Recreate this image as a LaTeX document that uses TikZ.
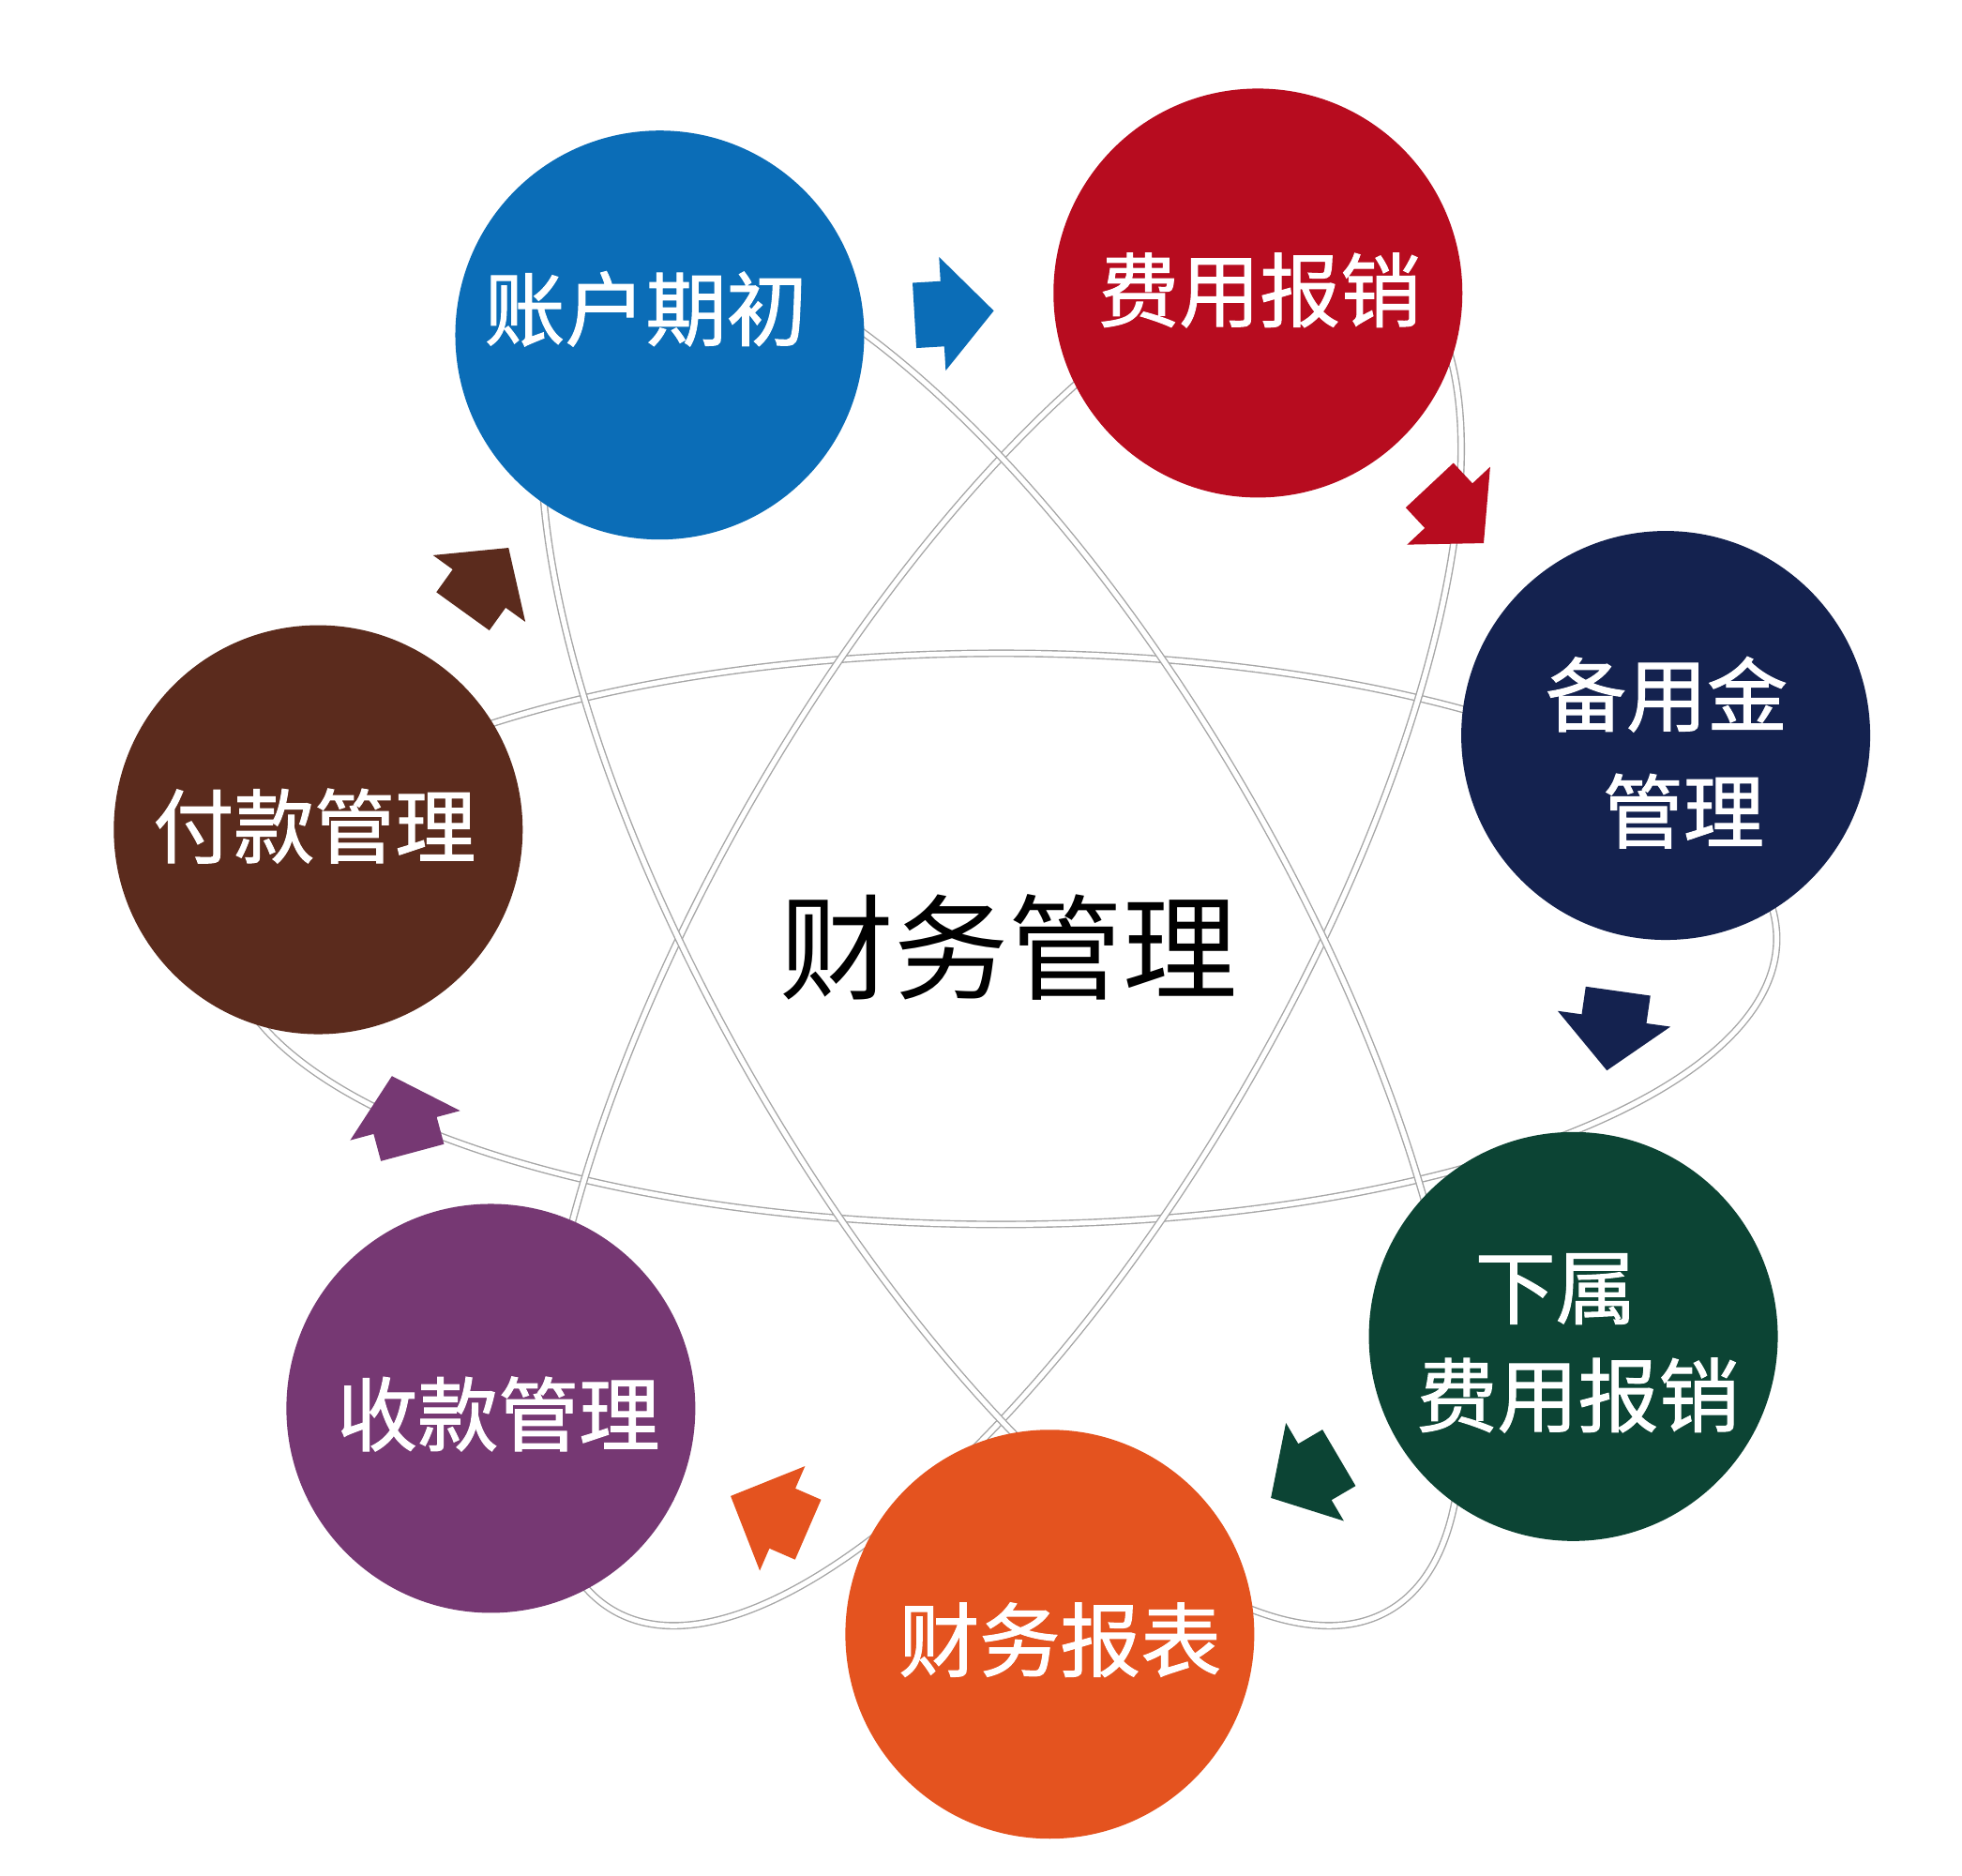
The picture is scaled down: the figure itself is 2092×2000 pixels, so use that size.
\documentclass[tikz,border=0pt]{standalone}
\usepackage{fontspec}
\newfontfamily\cjk{Noto Sans CJK SC}
\newfontfamily\cjkb[FakeBold=1.2]{Noto Sans CJK SC}
\usetikzlibrary{calc}
\definecolor{blueC}{HTML}{0B6DB7}
\definecolor{redC}{HTML}{B70C1F}
\definecolor{navyC}{HTML}{14224F}
\definecolor{greenC}{HTML}{0C4434}
\definecolor{orangeC}{HTML}{E4531F}
\definecolor{purpleC}{HTML}{763873}
\definecolor{brownC}{HTML}{5B2B1D}
\tikzset{
  tube/.style={draw=gray!70, line width=0.7pt, double=white, double distance=2.6pt},
  ball/.style={circle, fill=#1, draw=none, minimum size=218pt, inner sep=0pt},
  ctext/.style={text=white, font=\cjkb\fontsize{43}{50}\selectfont, inner sep=0pt},
  mtext/.style={text=black, font=\cjk\fontsize{61}{70}\selectfont, inner sep=0pt}
}
\newcommand\blockarrow[3]{%
  \coordinate (hb) at ($(#1)!15pt!(#2)$);
  \fill[#3] ($(#1)!17.5pt!90:(#2)$) -- ($(hb)!17.5pt!90:(#2)$) -- ($(hb)!30.5pt!90:(#2)$)
    -- (#2) -- ($(hb)!30.5pt!-90:(#2)$) -- ($(hb)!17.5pt!-90:(#2)$)
    -- ($(#1)!17.5pt!-90:(#2)$) -- cycle;
}
\begin{document}
\begin{tikzpicture}[x=0.5pt, y=-0.5pt]
\useasboundingbox (0,0) rectangle (2092,2000);
\fill[white] (0,0) rectangle (2092,2000);
\begin{scope}[scale=0.995]
\coordinate (ctr) at (1073,1006);
% orbit ellipses
\draw[tube] (ctr) ellipse [x radius=831, y radius=306];
\draw[tube, rotate around={60:(ctr)}] (ctr) ellipse [x radius=831, y radius=306];
\draw[tube, rotate around={-60:(ctr)}] (ctr) ellipse [x radius=831, y radius=306];
% circles
\node[ball=blueC]   (c1) at (707,359) {};
\node[ball=redC]    (c2) at (1348,314) {};
\node[ball=navyC]   (c3) at (1785,788) {};
\node[ball=greenC]  (c4) at (1686,1432) {};
\node[ball=orangeC] (c5) at (1125,1751) {};
\node[ball=purpleC] (c6) at (526,1509) {};
\node[ball=brownC]  (c7) at (341,889) {};
% texts
\node[ctext] (t1) at (692,331) {账户期初};
\node[ctext] (t2) at (1350,311) {费用报销};
\node[ctext] (t3a) at (1786,744) {备用金};
\node[ctext] (t3b) at (1804,869) {管理};
\node[ctext] (t4a) at (1667,1381) {下属};
\node[ctext] (t4b) at (1691,1495) {费用报销};
\node[ctext] (t5) at (1136,1757) {财务报表};
\node[ctext] (t6) at (534,1515) {收款管理};
\node[ctext] (t7) at (337,885) {付款管理};
\node[mtext] (tm) at (1081,1015) {财务管理};
% block arrows
\coordinate (a1s) at (980,338);  \coordinate (a1e) at (1065,333);
\coordinate (a2s) at (1532,520); \coordinate (a2e) at (1590,582);
\coordinate (a3s) at (1734,1062);\coordinate (a3e) at (1722,1147);
\coordinate (a4s) at (1435,1562);\coordinate (a4e) at (1362,1605);
\coordinate (a5s) at (866,1639); \coordinate (a5e) at (783,1603);
\coordinate (a6s) at (442,1235); \coordinate (a6e) at (420,1153);
\coordinate (a7s) at (496,655);  \coordinate (a7e) at (545,587);
\blockarrow{a1s}{a1e}{blueC}
\blockarrow{a2s}{a2e}{redC}
\blockarrow{a3s}{a3e}{navyC}
\blockarrow{a4s}{a4e}{greenC}
\blockarrow{a5s}{a5e}{orangeC}
\blockarrow{a6s}{a6e}{purpleC}
\blockarrow{a7s}{a7e}{brownC}
\end{scope}
\end{tikzpicture}
\end{document}
